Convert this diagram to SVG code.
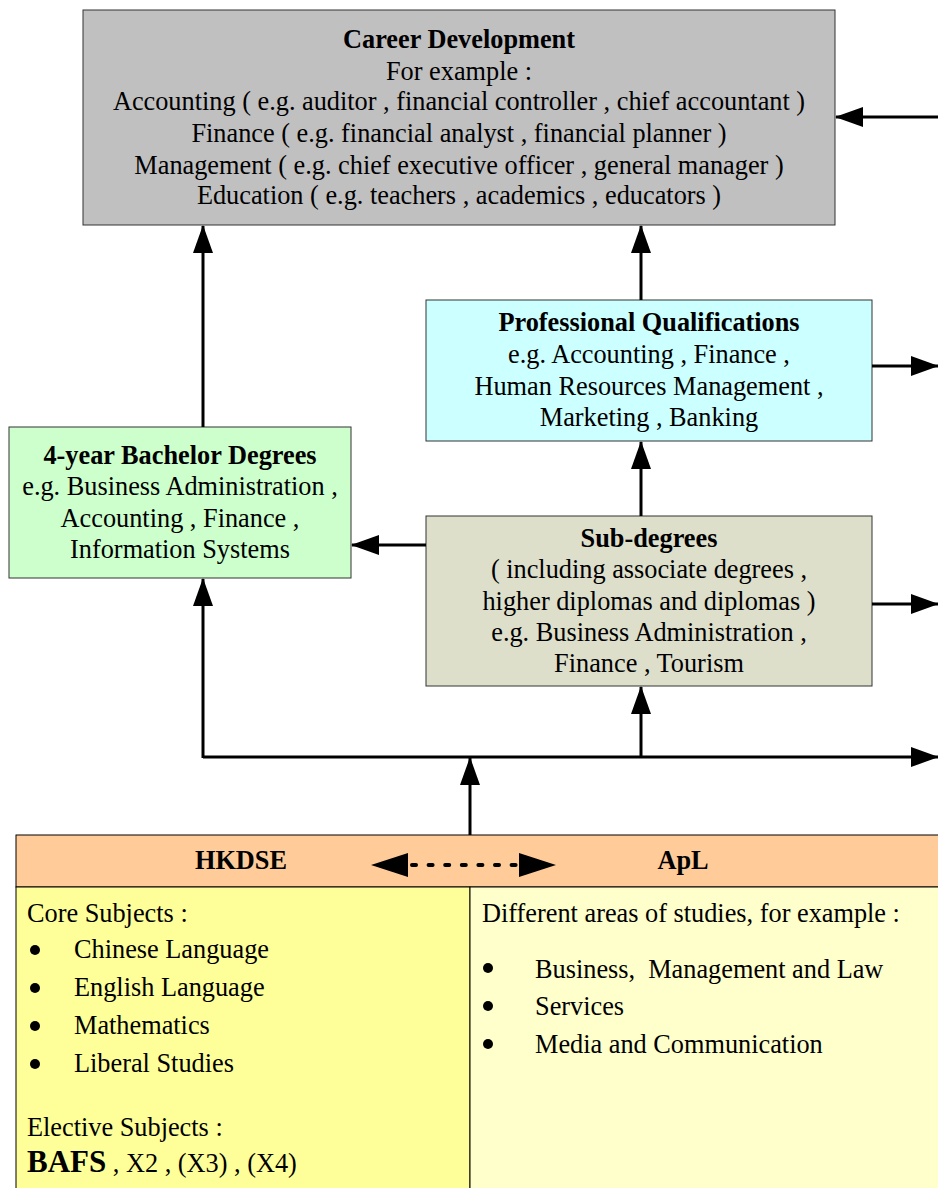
<svg xmlns="http://www.w3.org/2000/svg" width="938" height="1188" viewBox="0 0 938 1188">
  <defs>
    <marker id="arr" viewBox="0 0 28 20" refX="27" refY="10" markerWidth="28" markerHeight="20" markerUnits="userSpaceOnUse" orient="auto">
      <path d="M0,0 L28,10 L0,20 Z" fill="#000"/>
    </marker>
    <style>
      text { font-family: "Liberation Serif", "Times New Roman", serif; font-size: 26.3px; fill: #000; }
      .c { text-anchor: middle; }
      .b { font-weight: bold; }
      .box { stroke: #333; stroke-width: 1; }
      .line { stroke: #000; stroke-width: 3; fill: none; }
    </style>
  </defs>
  <rect width="938" height="1188" fill="#fff"/>

  <!-- Career Development -->
  <g id="career">
    <rect class="box" x="83" y="10" width="752" height="215" fill="#c0c0c0"/>
    <text class="c b" x="459" y="48">Career Development</text>
    <text class="c" x="459" y="80">For example :</text>
    <text class="c" x="459" y="110">Accounting ( e.g. auditor , financial controller , chief accountant )</text>
    <text class="c" x="459" y="142">Finance ( e.g. financial analyst , financial planner )</text>
    <text class="c" x="459" y="174">Management ( e.g. chief executive officer , general manager )</text>
    <text class="c" x="459" y="204">Education ( e.g. teachers , academics , educators )</text>
  </g>

  <!-- Professional Qualifications -->
  <g id="professional">
    <rect class="box" x="426" y="300" width="446" height="141" fill="#ccffff"/>
    <text class="c b" x="649" y="331">Professional Qualifications</text>
    <text class="c" x="649" y="363">e.g. Accounting , Finance ,</text>
    <text class="c" x="649" y="395">Human Resources Management ,</text>
    <text class="c" x="649" y="426">Marketing , Banking</text>
  </g>

  <!-- Bachelor degrees -->
  <g id="bachelor">
    <rect class="box" x="9" y="427" width="342" height="151" fill="#ccffcc"/>
    <text class="c b" x="180" y="464">4-year Bachelor Degrees</text>
    <text class="c" x="180" y="495">e.g. Business Administration ,</text>
    <text class="c" x="180" y="527">Accounting , Finance ,</text>
    <text class="c" x="180" y="558">Information Systems</text>
  </g>

  <!-- Sub-degrees -->
  <g id="subdegrees">
    <rect class="box" x="426" y="516" width="446" height="170" fill="#dddfcb"/>
    <text class="c b" x="649" y="547">Sub-degrees</text>
    <text class="c" x="649" y="578">( including associate degrees ,</text>
    <text class="c" x="649" y="610">higher diplomas and diplomas )</text>
    <text class="c" x="649" y="641">e.g. Business Administration ,</text>
    <text class="c" x="649" y="672">Finance , Tourism</text>
  </g>

  <!-- Connectors -->
  <g id="connectors">
    <line class="line" x1="938" y1="117" x2="836" y2="117" marker-end="url(#arr)"/>
    <line class="line" x1="641" y1="300" x2="641" y2="226" marker-end="url(#arr)"/>
    <line class="line" x1="203" y1="427" x2="203" y2="226" marker-end="url(#arr)"/>
    <line class="line" x1="872" y1="366" x2="938" y2="366" marker-end="url(#arr)"/>
    <line class="line" x1="641" y1="516" x2="641" y2="442" marker-end="url(#arr)"/>
    <line class="line" x1="426" y1="545" x2="352" y2="545" marker-end="url(#arr)"/>
    <line class="line" x1="872" y1="604" x2="938" y2="604" marker-end="url(#arr)"/>
    <line class="line" x1="203" y1="757" x2="938" y2="757" marker-end="url(#arr)"/>
    <line class="line" x1="203" y1="758" x2="203" y2="579" marker-end="url(#arr)"/>
    <line class="line" x1="641" y1="758" x2="641" y2="687" marker-end="url(#arr)"/>
    <line class="line" x1="470" y1="835" x2="470" y2="758" marker-end="url(#arr)"/>
  </g>

  <!-- Study pathways table -->
  <g id="hkdse-apl">
    <rect x="16" y="835" width="930" height="52" fill="#ffcc99" stroke="#000" stroke-width="1"/>
    <rect x="16" y="887" width="454" height="310" fill="#ffff99" stroke="#000" stroke-width="1"/>
    <rect x="470" y="887" width="476" height="310" fill="#ffffcc" stroke="#000" stroke-width="1"/>
    <text class="c b" x="241" y="869">HKDSE</text>
    <text class="c b" x="683" y="869">ApL</text>
    <line x1="412" y1="865" x2="518" y2="865" stroke="#000" stroke-width="4" stroke-linecap="round" stroke-dasharray="4 12.6"/>
    <path d="M371,865 L408,853 L408,877 Z" fill="#000"/>
    <path d="M556,865 L519,853 L519,877 Z" fill="#000"/>

    <text x="27" y="922">Core Subjects :</text>
    <circle cx="35" cy="950" r="5" fill="#000"/>
    <text x="74" y="958">Chinese Language</text>
    <circle cx="35" cy="988" r="5" fill="#000"/>
    <text x="74" y="996">English Language</text>
    <circle cx="35" cy="1026" r="5" fill="#000"/>
    <text x="74" y="1034">Mathematics</text>
    <circle cx="35" cy="1064" r="5" fill="#000"/>
    <text x="74" y="1072">Liberal Studies</text>
    <text x="27" y="1136">Elective Subjects :</text>
    <text x="27" y="1172"><tspan class="b" style="font-size:31px">BAFS</tspan> , X2 , (X3) , (X4)</text>

    <text x="482" y="922">Different areas of studies, for example :</text>
    <circle cx="488" cy="968" r="5" fill="#000"/>
    <text x="535" y="978">Business,&#160; Management and Law</text>
    <circle cx="488" cy="1006" r="5" fill="#000"/>
    <text x="535" y="1015">Services</text>
    <circle cx="488" cy="1044" r="5" fill="#000"/>
    <text x="535" y="1053">Media and Communication</text>
  </g>
</svg>
